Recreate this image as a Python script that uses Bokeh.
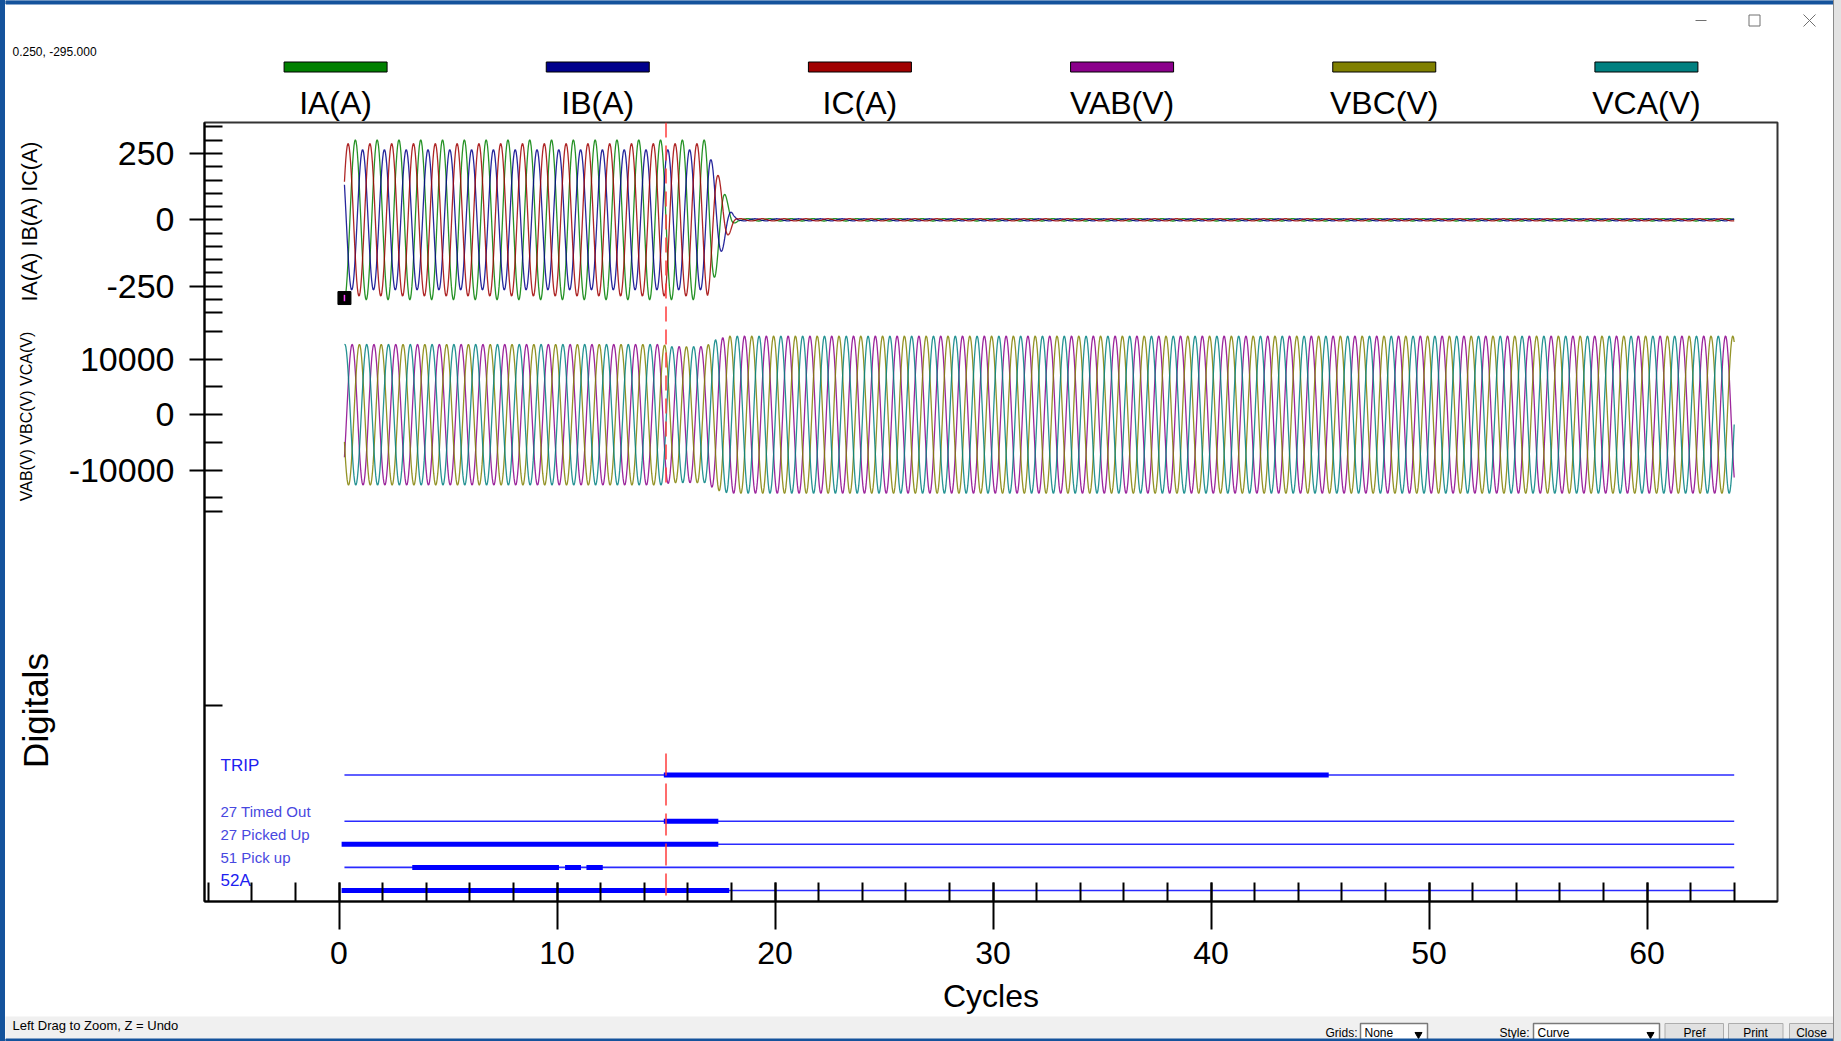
import numpy as np
from math import pi
from bokeh.plotting import figure
from bokeh.models import Range1d, FixedTicker, ColumnDataSource, Div
from bokeh.layouts import row, column
from bokeh.core.properties import value
from bokeh.embed import file_html
from bokeh.resources import INLINE

FONT = "Liberation Sans"

# ---------------- chart data ----------------
ANALOG_NAMES = ["IA(A)", "IB(A)", "IC(A)", "VAB(V)", "VBC(V)", "VCA(V)"]
ANALOG_COLORS = ["#008000", "#00008b", "#a00000", "#8b008b", "#808000", "#008080"]
AXIS_TITLES = ["IA(A) IB(A) IC(A)", "VAB(V) VBC(V) VCA(V)", "Digitals"]

# phase currents: peak amplitude (A) and the cycle of a positive peak
CURRENT_PEAK = [302.0, 265.0, 288.0]
CURRENT_PEAK_AT = [0.75, 1.083, 0.417]
# current envelope (fraction of the peak) while the breaker interrupts
CURRENT_ENV_AT = [0.25, 16.9, 17.2, 17.5, 17.8, 18.1, 18.3, 64.0]
CURRENT_ENV = [1.0, 1.0, 0.75, 0.5, 0.25, 0.06, 0.015, 0.015]

# line voltages: cycle of a positive peak, and peak amplitude over time (V)
VOLTAGE_PEAK_AT = [0.603, 0.937, 0.270]
VOLTAGE_ENV_AT = [0.25, 14.8, 15.2, 16.8, 17.3, 17.9, 64.0]
VOLTAGE_ENV = [12700.0, 12700.0, 12300.0, 12300.0, 13600.0, 14200.0, 14200.0]

RECORD_START, RECORD_END = 0.25, 64.0
SAMPLES_PER_CYCLE = 32
TRIGGER_AT = 15.0
CURSOR = [0.25, -295.0]

DIGITAL_NAMES = ["TRIP", "27 Timed Out", "27 Picked Up", "51 Pick up", "52A"]
DIGITAL_SLOT = [5, 3, 2, 1, 0]
DIGITAL_ON = [
    [(14.9, 45.4)],
    [(14.9, 17.4)],
    [(0.12, 17.4)],
    [(3.36, 10.09), (10.37, 11.10), (11.35, 12.10)],
    [(0.12, 17.9)],
]

X_MAJOR = [0, 10, 20, 30, 40, 50, 60]
X_MINOR = [-6, -4, -2, 0, 2, 4, 6, 8, 10, 12, 14, 16, 18, 20, 22, 24, 26, 28, 30, 32,
           34, 36, 38, 40, 42, 44, 46, 48, 50, 52, 54, 56, 58, 60, 62, 64]
CURRENT_TICKS = [250, 0, -250]
CURRENT_MINOR = [350, 300, 200, 150, 100, 50, -50, -100, -150, -200, -300, -350]
VOLTAGE_TICKS = [10000, 0, -10000]
VOLTAGE_MINOR = [15000, 5000, -5000, -15000, -17500]
DIGITAL_MINOR = [8]

# ---------------- layout calibration (window pixels) ----------------
WIN_W, WIN_H = 1841, 1041
LEFT_BORDER, RIGHT_STRIP = 5, 8
HEADER_H, STATUS_H = 121, 25
TITLE_W = 55
FRAME_L, FRAME_R, FRAME_T, FRAME_B = 204, 1777, 122, 901
X0_PX, PX_PER_CYCLE = 338.5, 21.8
I0_PX, PX_PER_AMP = 219.3, 66.3 / 250
V0_PX, PX_PER_VOLT = 414.2, 55.5 / 10000
D0_PX, PX_PER_ROW = 890.0, 23.1
BLUE = "#14539c"


def x_at(px):
    return (px - X0_PX) / PX_PER_CYCLE


def i_at(py):
    return (I0_PX - py) / PX_PER_AMP


def v_at(py):
    return (V0_PX - py) / PX_PER_VOLT


def d_at(py):
    return (D0_PX - py) / PX_PER_ROW


X_LO, X_HI = x_at(FRAME_L), x_at(FRAME_R)
I_LO, I_HI = i_at(FRAME_B), i_at(FRAME_T)
V_LO, V_HI = v_at(FRAME_B), v_at(FRAME_T)
D_LO, D_HI = d_at(FRAME_B), d_at(FRAME_T)


def volt_to_primary(v):
    return round(i_at(V0_PX - v * PX_PER_VOLT), 4)


def dig_to_primary(d):
    return round(i_at(D0_PX - d * PX_PER_ROW), 4)


def no_align(p):
    try:
        p.frame_align = False
    except Exception:
        pass
    return p


# ---------------- waveforms ----------------
t = np.arange(RECORD_START, RECORD_END + 1e-9, 1.0 / SAMPLES_PER_CYCLE)
env_i = np.interp(t, CURRENT_ENV_AT, CURRENT_ENV)
currents = [pk * env_i * np.cos(2 * np.pi * (t - at)) for pk, at in zip(CURRENT_PEAK, CURRENT_PEAK_AT)]
env_v = np.interp(t, VOLTAGE_ENV_AT, VOLTAGE_ENV)
voltages = [env_v * np.cos(2 * np.pi * (t - at)) for at in VOLTAGE_PEAK_AT]

inner_w = WIN_W - LEFT_BORDER - RIGHT_STRIP
mid_h = WIN_H - HEADER_H - STATUS_H

# ---------------- header (legend) ----------------
header = no_align(figure(width=inner_w, height=HEADER_H, x_range=Range1d(LEFT_BORDER, WIN_W - RIGHT_STRIP),
                         y_range=Range1d(HEADER_H, 0), output_backend="svg", toolbar_location=None,
                         x_axis_location=None, y_axis_location=None, min_border=0, outline_line_color=None))
header.xgrid.visible = False
header.ygrid.visible = False
header.quad(left=[LEFT_BORDER], right=[WIN_W], top=[0], bottom=[3.5], color=BLUE)
centers = [FRAME_L + (FRAME_R - FRAME_L) * (k + 0.5) / len(ANALOG_NAMES) for k in range(len(ANALOG_NAMES))]
hsrc = ColumnDataSource(dict(x=centers, name=ANALOG_NAMES, color=ANALOG_COLORS))
header.rect(x="x", y=66.5, width=103, height=10, fill_color="color", line_color="black",
            line_width=1, source=hsrc)
header.text(x="x", y=102, text="name", text_align="center", text_baseline="middle",
            text_font=value(FONT), text_font_size="32px", text_color="black", source=hsrc)
header.text(x=[12], y=[51], text=[f"{CURSOR[0]:.3f}, {CURSOR[1]:.3f}"], text_baseline="middle",
            text_font=value(FONT), text_font_size="12px", text_color="black")
# window buttons
header.segment(x0=[1695], y0=[20], x1=[1706], y1=[20], line_color="#707070", line_width=1)
header.rect(x=[1754], y=[20], width=11, height=11, fill_color=None, line_color="#707070", line_width=1)
header.segment(x0=[1803, 1803], y0=[14, 26], x1=[1815, 1815], y1=[26, 14], line_color="#707070", line_width=1)

# ---------------- axis titles (left strip) ----------------
titles = no_align(figure(width=TITLE_W, height=mid_h, x_range=Range1d(LEFT_BORDER, LEFT_BORDER + TITLE_W),
                         y_range=Range1d(HEADER_H + mid_h, HEADER_H), output_backend="svg",
                         toolbar_location=None, x_axis_location=None, y_axis_location=None,
                         min_border=0, outline_line_color=None))
titles.xgrid.visible = False
titles.ygrid.visible = False
tsrc = ColumnDataSource(dict(x=[29, 26, 35], y=[221, 416, 710], text=AXIS_TITLES,
                             size=["21.5px", "16px", "35px"]))
titles.text(x="x", y="y", text="text", angle=pi / 2, text_align="center", text_baseline="middle",
            text_font=value(FONT), text_font_size="size", text_color="black", source=tsrc)

# ---------------- main oscillogram ----------------
main_w = inner_w - TITLE_W
main_left = LEFT_BORDER + TITLE_W
main = no_align(figure(width=main_w, height=mid_h, x_range=Range1d(X_LO, X_HI), y_range=Range1d(I_LO, I_HI),
                       output_backend="svg", toolbar_location=None,
                       min_border_left=FRAME_L - main_left, min_border_right=(WIN_W - RIGHT_STRIP) - FRAME_R,
                       min_border_top=FRAME_T - HEADER_H, min_border_bottom=(HEADER_H + mid_h) - FRAME_B,
                       background_fill_color="white", border_fill_color="white"))
main.extra_y_ranges = {"volt": Range1d(V_LO, V_HI), "dig": Range1d(D_LO, D_HI)}
main.xgrid.visible = False
main.ygrid.visible = False
main.outline_line_color = "#333333"
main.outline_line_width = 2

for k in range(3):
    main.line(t, currents[k], line_color=ANALOG_COLORS[k], line_width=1.3, line_alpha=0.85)
for k in range(3):
    main.line(t, voltages[k], line_color=ANALOG_COLORS[3 + k], line_width=1.3, line_alpha=0.85,
              y_range_name="volt")

# digital channels
base = ColumnDataSource(dict(x0=[RECORD_START] * len(DIGITAL_NAMES), x1=[RECORD_END] * len(DIGITAL_NAMES),
                             y=DIGITAL_SLOT))
main.segment(x0="x0", y0="y", x1="x1", y1="y", line_color="#2a2aff", line_width=1.6,
             y_range_name="dig", source=base)
on_x0, on_x1, on_y = [], [], []
for slot, spans in zip(DIGITAL_SLOT, DIGITAL_ON):
    for a, b in spans:
        on_x0.append(a)
        on_x1.append(b)
        on_y.append(slot)
main.segment(x0=on_x0, y0=on_y, x1=on_x1, y1=on_y, line_color="#0000ff", line_width=5,
             y_range_name="dig")
big = ("TRIP", "52A")
lab_x = [x_at(220)] * len(DIGITAL_NAMES)
lab_y = [s + 10 / PX_PER_ROW for s in DIGITAL_SLOT]
dsrc = ColumnDataSource(dict(x=lab_x, y=lab_y, name=DIGITAL_NAMES,
                             size=["17px" if n in big else "15px" for n in DIGITAL_NAMES],
                             color=["#2020f0" if n in big else "#4848e0" for n in DIGITAL_NAMES]))
main.text(x="x", y="y", text="name", text_font_size="size", text_color="color",
          text_font=value(FONT), text_baseline="middle", text_align="left",
          y_range_name="dig", source=dsrc)

# trigger (red dashed) line
main.segment(x0=[TRIGGER_AT], x1=[TRIGGER_AT], y0=[V_HI], y1=[v_at(488)], line_color="#ff3b3b",
             line_width=1.5, line_dash="15 8", y_range_name="volt")
main.segment(x0=[TRIGGER_AT], x1=[TRIGGER_AT], y0=[d_at(753)], y1=[D_LO], line_color="#ff3b3b",
             line_width=1.5, line_dash="22 8", y_range_name="dig")

# cursor marker
main.scatter(x=[CURSOR[0]], y=[CURSOR[1]], marker="square", size=13, color="black")
main.segment(x0=[CURSOR[0]], x1=[CURSOR[0]], y0=[CURSOR[1] + 12], y1=[CURSOR[1] - 12],
             line_color="#ff40ff", line_width=1.5)

# axes
main.xaxis.ticker = FixedTicker(ticks=X_MAJOR, minor_ticks=X_MINOR)
main.xaxis.axis_label = "Cycles"
main.xaxis.axis_label_text_font = FONT
main.xaxis.axis_label_text_font_size = "32px"
main.xaxis.axis_label_text_font_style = "normal"
main.xaxis.axis_label_text_color = "black"
main.xaxis.axis_label_standoff = 11
main.xaxis.major_label_standoff = 12
main.xaxis.major_label_text_font_size = "32px"
main.xaxis.major_tick_in = 19
main.xaxis.major_tick_out = 28
main.xaxis.minor_tick_in = 19
main.xaxis.minor_tick_out = 0

y_major = list(CURRENT_TICKS) + [volt_to_primary(v) for v in VOLTAGE_TICKS]
y_minor = (list(CURRENT_MINOR) + [volt_to_primary(v) for v in VOLTAGE_MINOR]
           + [dig_to_primary(d) for d in DIGITAL_MINOR])
main.yaxis.ticker = FixedTicker(ticks=y_major, minor_ticks=y_minor)
overrides = {float(c): str(c) for c in CURRENT_TICKS}
overrides.update({volt_to_primary(v): str(v) for v in VOLTAGE_TICKS})
main.yaxis.major_label_overrides = overrides
main.yaxis.major_label_text_font_size = "34px"
main.yaxis.major_tick_in = 18
main.yaxis.major_tick_out = 15
main.yaxis.minor_tick_in = 18
main.yaxis.minor_tick_out = 0
main.yaxis.major_label_standoff = 15

for ax in (main.xaxis[0], main.yaxis[0]):
    ax.major_label_text_font = FONT
    ax.major_label_text_color = "black"
    ax.axis_line_color = "black"
    ax.axis_line_width = 2
    ax.major_tick_line_color = "black"
    ax.major_tick_line_width = 2
    ax.minor_tick_line_color = "black"
    ax.minor_tick_line_width = 2

# ---------------- status bar ----------------
s_top = WIN_H - STATUS_H
status = no_align(figure(width=inner_w, height=STATUS_H, x_range=Range1d(LEFT_BORDER, WIN_W - RIGHT_STRIP),
                         y_range=Range1d(WIN_H, s_top), output_backend="svg", toolbar_location=None,
                         x_axis_location=None, y_axis_location=None, min_border=0, outline_line_color=None,
                         background_fill_color="#f0f0f0", border_fill_color="#f0f0f0"))
status.xgrid.visible = False
status.ygrid.visible = False
status.text(x=[12], y=[1025], text=["Left Drag to Zoom, Z = Undo"], text_baseline="middle",
            text_font=value(FONT), text_font_size="13px", text_color="black")
status.text(x=[1357, 1529], y=[1032, 1032], text=["Grids:", "Style:"], text_align="right",
            text_baseline="middle", text_font=value(FONT), text_font_size="12px", text_color="black")
status.quad(left=[1360, 1533], right=[1427, 1659], top=[1023, 1023], bottom=[1046, 1046],
            fill_color="white", line_color="#7a7a7a", line_width=1.5)
status.text(x=[1364, 1537], y=[1032, 1032], text=["None", "Curve"], text_baseline="middle",
            text_font=value(FONT), text_font_size="12px", text_color="black")
status.scatter(x=[1418, 1650], y=[1034, 1034], marker="inverted_triangle", size=7, color="black")
status.quad(left=[1664.5, 1728, 1789], right=[1723, 1782.5, 1838], top=[1023] * 3, bottom=[1046] * 3,
            fill_color="#e1e1e1", line_color="#adadad", line_width=1)
status.text(x=[1694, 1755, 1811], y=[1032] * 3, text=["Pref", "Print", "Close"], text_align="center",
            text_baseline="middle", text_font=value(FONT), text_font_size="12px", text_color="black")
status.quad(left=[LEFT_BORDER], right=[WIN_W], top=[1038.5], bottom=[WIN_H], color=BLUE)

left_div = Div(text="", width=LEFT_BORDER, height=WIN_H, margin=0,
               styles={"background-color": BLUE})
right_div = Div(text="", width=RIGHT_STRIP, height=WIN_H, margin=0,
                styles={"background-color": "#e2e2e2", "box-shadow": "inset 1px 0 0 #8a8a8a"})

layout = row(left_div,
             column(header, row(titles, main, spacing=0), status, spacing=0),
             right_div, spacing=0)

with open("out.html", "w") as f:
    f.write(file_html(layout, INLINE))
